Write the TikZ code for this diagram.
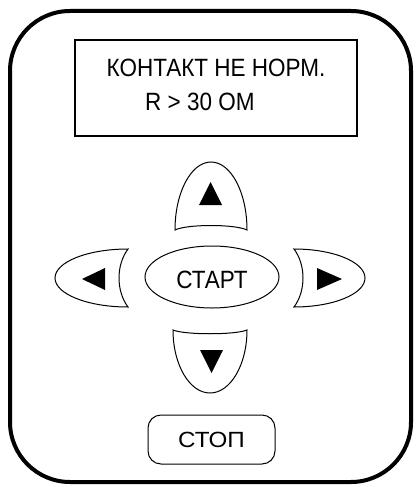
\documentclass[tikz,border=0pt]{standalone}
\usepackage{fontspec}
\setmainfont{Liberation Sans}[FakeStretch=0.9]
\newfontfamily\stopfont{Liberation Sans}[FakeStretch=1.1]
\usetikzlibrary{shapes.geometric}
\begin{document}
\begin{tikzpicture}[x=1pt,y=-1pt,
  btn/.style={draw,line width=1pt},
  lbl/.style={inner sep=0,font=\fontsize{25}{25}\selectfont}]
  \useasboundingbox (0,0) rectangle (417,487);

  % case
  \draw[line width=4pt,rounded corners=60pt] (10,11) rectangle (411,482);

  % display
  \node[draw,line width=1.2pt,minimum width=282pt,minimum height=96pt,inner sep=0] (display) at (216,88) {};
  \node[lbl,anchor=base] (msg) at (216,77) {КОНТАКТ НЕ НОРМ.};
  \node[lbl,anchor=base west] (val) at (145,110) {R > 30 ОМ};

  % arrow keys
  \draw[btn] (175,230) arc[start angle=180,end angle=360,x radius=36,y radius=68]
    .. controls (235,224) and (187,224) .. cycle;
  \draw[btn] (173,330) arc[start angle=180,end angle=0,x radius=37,y radius=63]
    .. controls (235,335) and (185,335) .. cycle;
  \draw[btn] (128,249) arc[start angle=270,end angle=90,x radius=73,y radius=29]
    .. controls (116,291) and (116,265) .. cycle;
  \draw[btn] (294,249) arc[start angle=270,end angle=450,x radius=71,y radius=29]
    .. controls (306,291) and (306,265) .. cycle;

  \foreach \a/\b/\c in {{199,205}/{222,205}/{210.5,182},{200,350}/{223,350}/{211.5,373},
                        {105,268}/{105,290}/{82,279},{317,268}/{317,290}/{342,279}}
    \fill (\a) -- (\b) -- (\c) -- cycle;

  % start / stop
  \node[btn,ellipse,minimum width=134pt,minimum height=62pt,inner sep=0,
    text height=22pt,text depth=0pt,font=\fontsize{25}{25}\selectfont] (start) at (212,277) {СТАРТ};
  \node[btn,rounded corners=13pt,minimum width=127pt,minimum height=49pt,inner sep=0,
    text height=16pt,text depth=0pt,font=\stopfont\fontsize{22}{22}\selectfont] (stop) at (211.5,439.5) {СТОП};
\end{tikzpicture}
\end{document}
